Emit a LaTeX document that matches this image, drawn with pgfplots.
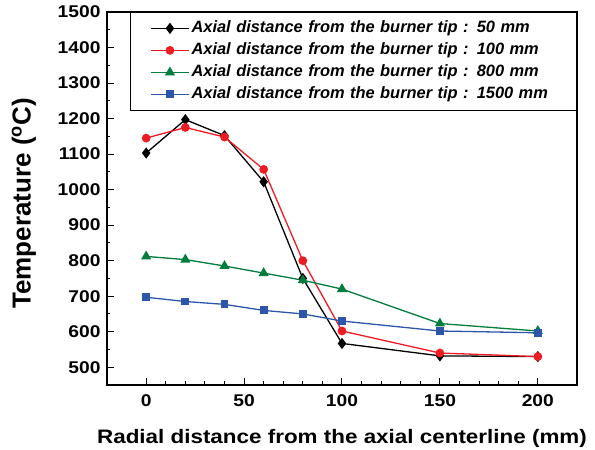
\documentclass[border=0pt]{standalone}
\usepackage{pgfplots}
\pgfplotsset{compat=1.18}
\usepackage{fontspec}
\setmainfont{Liberation Sans}
\setsansfont{Liberation Sans}
\definecolor{cblack}{RGB}{0,0,0}
\definecolor{cred}{RGB}{237,28,36}
\definecolor{cgreen}{RGB}{0,125,60}
\definecolor{cblue}{RGB}{45,85,170}
\begin{document}
\begin{tikzpicture}
\useasboundingbox (-107pt,-65pt) rectangle (488pt,385pt);
\begin{axis}[
    scale only axis,
    width=470pt, height=373pt,
    xmin=-20, xmax=220,
    ymin=450, ymax=1500,
    xtick={0,50,100,150,200},
    ytick={500,600,...,1500},
    minor x tick num=4,
    minor y tick num=1,
    tick pos=left,
    tick align=inside,
    major tick length=7pt,
    minor tick length=3.5pt,
    axis line style={line width=1.3pt},
    every tick/.style={line width=1pt, black},
    /pgf/number format/assume math mode=true,
    /pgf/number format/set thousands separator={},
    ticklabel style={font=\bfseries\fontsize{17}{20}\selectfont},
    xticklabel={\scalebox{1.13}[1]{\pgfmathprintnumber{\tick}}},
    yticklabel={\scalebox{1.13}[1]{\pgfmathprintnumber{\tick}}},
    yticklabel style={xshift=-3pt},
    xticklabel style={yshift=-6pt},
    xlabel={\scalebox{1.15}[1]{Radial distance from the axial centerline (mm)}},
    ylabel={Temperature (\textsuperscript{o}C)},
    xlabel style={font=\bfseries\fontsize{19.5}{22}\selectfont,
        at={(axis description cs:0.5,-0.1555)}, anchor=base},
    ylabel style={font=\bfseries\fontsize{26}{29}\selectfont,
        at={(axis description cs:-0.1766,0.487)}, anchor=center},
    legend style={at={(1,1)}, anchor=north east, draw=black, line width=0.8pt,
        font=\bfseries\itshape\fontsize{16.4}{18}\selectfont,
        row sep=0pt, inner xsep=20pt, inner ysep=5pt,
        nodes={text height=11pt, text depth=3pt, inner ysep=4pt, inner xsep=2pt,
               text width=363pt, align=left}},
    legend cell align=left,
    legend image code/.code={
        \draw[mark repeat=2, mark phase=2]
            plot coordinates {(0pt,0pt) (19pt,0pt) (38pt,0pt)};},
    every axis plot/.append style={line width=1.3pt},
]
\addplot[cblack, mark=diamond*, mark size=4.6pt] coordinates {
    (0,1103)(20,1197)(40,1152)(60,1022)(80,750)(100,567)(150,532)(200,530)};
\addplot[cred, mark=*, mark size=3.7pt] coordinates {
    (0,1145)(20,1175)(40,1148)(60,1057)(80,800)(100,602)(150,540)(200,530)};
\addplot[cgreen, mark=triangle*, mark size=4.6pt] coordinates {
    (0,812)(20,803)(40,785)(60,765)(80,745)(100,720)(150,623)(200,602)};
\addplot[cblue, mark=square*, mark size=3.3pt] coordinates {
    (0,697)(20,685)(40,677)(60,660)(80,650)(100,630)(150,602)(200,597)};
\legend{Axial distance from the burner tip : 50 mm,
        Axial distance from the burner tip : 100 mm,
        Axial distance from the burner tip : 800 mm,
        Axial distance from the burner tip : 1500 mm}
\end{axis}
\end{tikzpicture}
\end{document}
